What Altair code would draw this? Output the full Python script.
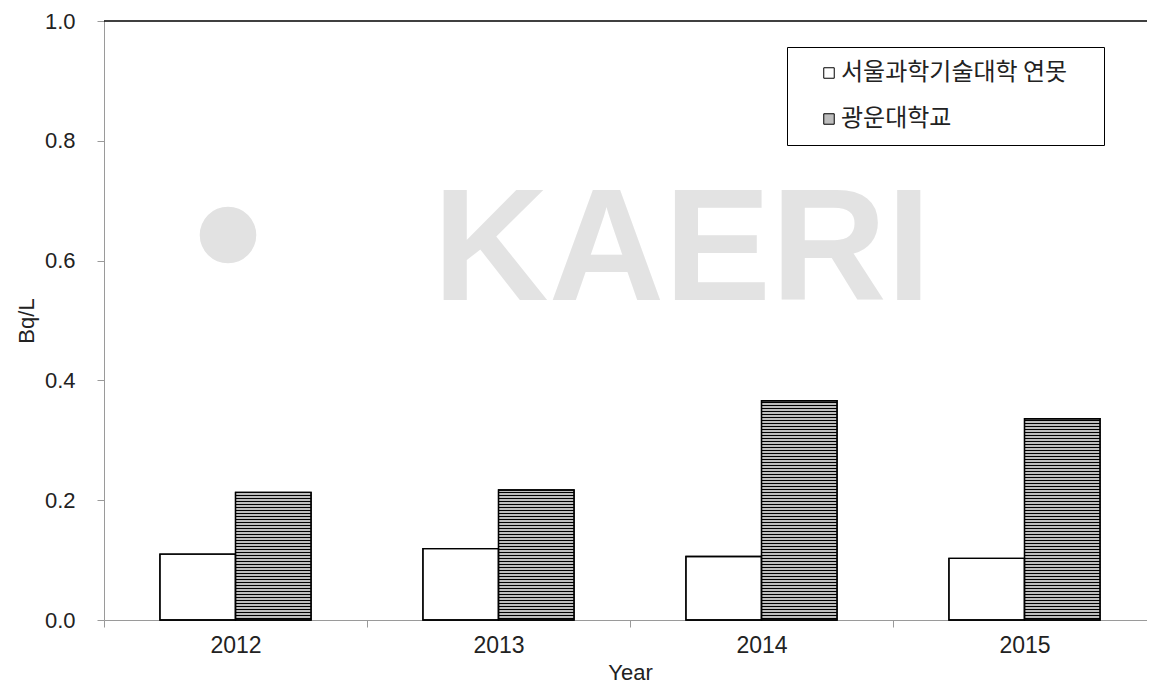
import altair as alt
import pandas as pd

years = ["2012", "2013", "2014", "2015"]
series_names = ["서울과학기술대학 연못", "광운대학교"]
vals_seoultech = [0.110, 0.119, 0.106, 0.103]
vals_kwangwoon = [0.213, 0.217, 0.366, 0.336]
y_ticks = [0.0, 0.2, 0.4, 0.6, 0.8, 1.0]

PLOT_W, PLOT_H = 1052, 599
AXIS_FONT = "Liberation Sans"

rows = []
for yr, a, b in zip(years, vals_seoultech, vals_kwangwoon):
    rows.append({"year": yr, "series": series_names[0], "value": a})
    rows.append({"year": yr, "series": series_names[1], "value": b})
df = pd.DataFrame(rows)

# horizontal hatch lines inside the 광운대학교 bars, derived from the values
px = 1.0 / PLOT_H
hatch = []
for yr, b in zip(years, vals_kwangwoon):
    k = 0
    while (3 * k + 2) * px <= b:
        hatch.append({"year": yr, "series": series_names[1],
                      "y0": (3 * k + 1) * px, "y1": (3 * k + 2) * px})
        k += 1
df_hatch = pd.DataFrame(hatch)

X = alt.X("year:N", sort=years, title="Year",
          scale=alt.Scale(paddingInner=0, paddingOuter=0),
          axis=alt.Axis(labelAngle=0, tickBand="extent", domainColor="#9a9a9a",
                        tickColor="#9a9a9a", tickSize=7, labelFont=AXIS_FONT,
                        labelFontSize=23, labelColor="#222222", labelPadding=7,
                        titleFont=AXIS_FONT, titleFontSize=22,
                        titleFontWeight="normal", titleColor="#222222",
                        titlePadding=5))
XO = alt.XOffset("series:N", sort=series_names,
                 scale=alt.Scale(domain=series_names, paddingInner=0, paddingOuter=0.74))
Y = alt.Y("value:Q", title="Bq/L",
          scale=alt.Scale(domain=[0, 1], nice=False),
          axis=alt.Axis(values=y_ticks, format=".1f", grid=False,
                        domainColor="#9a9a9a", tickColor="#9a9a9a", tickSize=7,
                        labelFont=AXIS_FONT, labelFontSize=22, labelColor="#222222",
                        labelPadding=22, titleFont=AXIS_FONT, titleFontSize=22,
                        titleFontWeight="normal", titleColor="#222222",
                        titlePadding=6))

watermark = alt.Chart(pd.DataFrame({"t": ["KAERI"]})).mark_text(
    font="Liberation Sans", fontWeight="bold", fontSize=160, color="#e3e3e3",
    baseline="alphabetic", align="center"
).encode(x=alt.value(578), y=alt.value(279), text="t:N")

ball = alt.Chart(pd.DataFrame({"t": ["o"]})).mark_circle(
    size=3200, color="#e2e2e2", opacity=1
).encode(x=alt.value(124), y=alt.value(214))

bars = alt.Chart(df).mark_bar(stroke="black", strokeWidth=1.3).encode(
    x=X, xOffset=XO, y=Y,
    fill=alt.Fill("series:N", sort=series_names,
                  scale=alt.Scale(domain=series_names, range=["white", "#bdbdbd"]),
                  legend=alt.Legend(title=None, orient="none", legendX=683, legendY=26,
                                    strokeColor="black", fillColor="white", padding=14,
                                    symbolType="square", symbolSize=110,
                                    symbolStrokeColor="black", symbolStrokeWidth=1,
                                    symbolOffset=16, labelOffset=0, rowPadding=22,
                                    labelFont="Noto Sans CJK KR",
                                    labelFontSize=24, labelColor="#222222",
                                    labelExpr="datum.label + '\u3164'",
                                    labelLimit=420))
)

stripes = alt.Chart(df_hatch).mark_bar(color="black", strokeWidth=0).encode(
    x=X, xOffset=XO, y=alt.Y("y0:Q"), y2="y1:Q"
)

outline = alt.Chart(df).mark_bar(fillOpacity=0, stroke="black", strokeWidth=1.3).encode(
    x=X, xOffset=XO, y=Y
)

top_line = alt.Chart(pd.DataFrame({"v": [1.0]})).mark_rule(
    color="black", strokeWidth=1.5
).encode(y=alt.Y("v:Q"))

chart = alt.layer(watermark, ball, bars, stripes, outline, top_line).properties(
    width=PLOT_W, height=PLOT_H,
    autosize=alt.AutoSizeParams(type="none"),
    padding={"left": 96, "top": 13, "right": -9, "bottom": 64},
).configure(font="Noto Sans CJK KR").configure_view(stroke=None)

chart.save("out.html", embed_options={"renderer": "svg", "actions": False})
